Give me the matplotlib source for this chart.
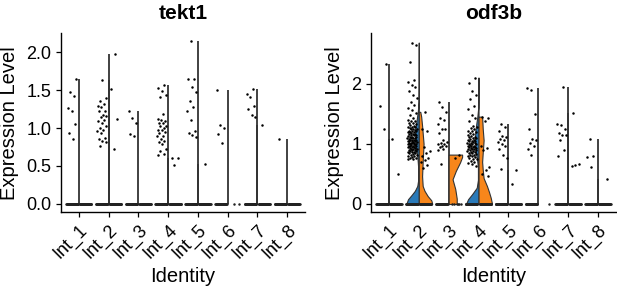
import numpy as np
import matplotlib
matplotlib.use('Agg')
import matplotlib.pyplot as plt

plt.rcParams['font.family'] = ['Liberation Sans', 'DejaVu Sans']

clusters = ['Int_1', 'Int_2', 'Int_3', 'Int_4', 'Int_5', 'Int_6', 'Int_7', 'Int_8']
BLUE = '#2a7ab9'
ORANGE = '#f7861b'
LINE = '#333333'

# non-zero expression values, left (blue) and right (orange) split groups
tekt1_left = [
    [1.65, 1.48, 1.42, 1.26, 1.23, 1.05, 0.93, 0.86],
    [1.63, 1.40, 1.36, 1.32, 1.29, 1.28, 1.23, 1.22, 1.17, 1.16, 1.14, 1.11, 1.09, 1.06,
     1.02, 1.00, 0.98, 0.96, 0.94, 0.87, 0.85, 0.83, 0.82, 0.76],
    [1.23, 1.13, 1.06, 0.92, 0.90],
    [1.57, 1.52, 1.49, 1.43, 1.41, 1.19, 1.12, 1.11, 1.09, 1.07, 1.06, 1.03, 1.02, 1.00,
     0.98, 0.97, 0.95, 0.93, 0.90, 0.89, 0.85, 0.83, 0.81, 0.79, 0.73, 0.70, 0.66, 0.65],
    [2.14, 1.65, 1.64, 1.54, 1.47, 1.36, 1.28, 1.23, 1.11, 0.96, 0.94, 0.91, 0.88],
    [1.50, 1.04, 1.00, 0.92, 0.80],
    [1.51, 1.45, 1.41, 1.29, 1.25, 1.17, 1.14],
    [0.86],
]
tekt1_right = [[], [1.97, 1.51, 1.12, 0.73], [], [0.60, 0.60, 0.51], [0.53], [], [1.04], []]
tekt1_zeros_left = [40, 40, 35, 40, 40, 35, 40, 40]
tekt1_zeros_right = [40, 40, 35, 40, 40, 2, 40, 40]

odf3b_left = [
    [2.32, 1.63, 1.25],
    [2.68, 2.64, 2.35, 2.06, 2.02, 1.98, 1.94, 1.87, 1.81, 1.76, 1.70, 1.65, 1.60, 1.56,
     1.51, 1.47, 1.43, 1.40, 1.38, 1.37, 1.35, 1.34, 1.32, 1.31, 1.30, 1.28, 1.28, 1.27,
     1.26, 1.25, 1.25, 1.24, 1.23, 1.22, 1.22, 1.21, 1.20, 1.19, 1.19, 1.18, 1.17, 1.16,
     1.16, 1.15, 1.14, 1.14, 1.13, 1.12, 1.12, 1.11, 1.10, 1.10, 1.09, 1.09, 1.08, 1.07,
     1.07, 1.06, 1.06, 1.05, 1.05, 1.04, 1.04, 1.03, 1.03, 1.02, 1.02, 1.01, 1.01, 1.00,
     1.00, 0.99, 0.99, 0.98, 0.98, 0.97, 0.97, 0.96, 0.96, 0.95, 0.95, 0.94, 0.93, 0.93,
     0.92, 0.92, 0.91, 0.90, 0.90, 0.89, 0.88, 0.88, 0.87, 0.86, 0.86, 0.85, 0.84, 0.83,
     0.82, 0.81, 0.80, 0.79, 0.78, 0.77, 0.76, 0.75, 0.74],
    [1.70, 1.61, 1.52, 1.43, 1.39, 1.32, 1.25, 1.24, 1.18, 1.06, 1.03, 1.02, 1.00, 0.99,
     0.97, 0.96, 0.94, 0.91, 0.90, 0.66],
    [2.10, 2.01, 1.88, 1.81, 1.74, 1.62, 1.58, 1.48, 1.43, 1.37, 1.30, 1.28, 1.26, 1.24,
     1.22, 1.21, 1.19, 1.18, 1.16, 1.15, 1.13, 1.12, 1.11, 1.10, 1.09, 1.08, 1.07, 1.06,
     1.05, 1.05, 1.04, 1.03, 1.02, 1.01, 1.01, 1.00, 0.99, 0.99, 0.98, 0.97, 0.97, 0.96,
     0.95, 0.95, 0.94, 0.93, 0.93, 0.92, 0.91, 0.91, 0.90, 0.89, 0.88, 0.88, 0.87, 0.86,
     0.85, 0.84, 0.83, 0.82, 0.81, 0.80, 0.79, 0.78, 0.77, 0.75, 0.74, 0.72, 0.70, 0.68,
     0.66, 0.63],
    [1.33, 1.28, 1.22, 1.13, 1.11, 1.08, 1.06, 1.03, 1.00, 0.96, 0.91, 0.81, 0.77, 0.58],
    [1.92, 1.90, 1.49, 1.24, 1.08, 1.06, 1.01, 0.96, 0.91, 0.81],
    [1.95, 1.33, 1.31, 1.25, 1.18, 1.15, 1.14, 1.06, 0.90, 0.80],
    [1.08, 0.79, 0.78, 0.62],
]
odf3b_right = [
    [1.08, 0.49],
    [1.53, 1.24, 1.21, 0.95, 0.88, 0.85, 0.80, 0.77, 0.73, 0.69, 0.64, 0.60],
    [0.82, 0.76],
    [1.45, 1.42, 1.38, 0.97, 0.93, 0.90, 0.62, 0.56, 0.50, 0.46],
    [0.56, 0.34],
    [],
    [1.51, 0.66, 0.64, 0.63],
    [0.42],
]
odf3b_zeros_left = [40, 40, 35, 40, 40, 35, 40, 40]
odf3b_zeros_right = [40, 40, 6, 40, 40, 1, 40, 40]

# violin outlines (level, scaled half width) for the wide ones
odf3b_shapes = {
    (1, 'L'): ([0, 0.08, 0.15, 0.22, 0.30, 0.40, 0.60, 0.80, 0.95, 1.10, 1.25, 1.40, 1.55, 1.70, 2.00, 2.68],
               [0.42, 0.36, 0.24, 0.13, 0.05, 0.02, 0.02, 0.05, 0.10, 0.12, 0.11, 0.07, 0.03, 0.01, 0.005, 0.003]),
    (1, 'R'): ([0, 0.06, 0.13, 0.22, 0.30, 0.46, 0.70, 1.00, 1.30, 1.45, 1.53],
               [0.45, 0.42, 0.30, 0.19, 0.13, 0.11, 0.13, 0.16, 0.11, 0.08, 0.05]),
    (2, 'R'): ([0, 0.09, 0.25, 0.41, 0.55, 0.69, 0.78, 0.82],
               [0.27, 0.27, 0.22, 0.13, 0.24, 0.38, 0.45, 0.45]),
    (3, 'L'): ([0, 0.08, 0.16, 0.27, 0.40, 0.60, 0.75, 0.90, 1.05, 1.20, 1.35, 1.45, 1.60, 2.10],
               [0.42, 0.35, 0.22, 0.06, 0.02, 0.02, 0.05, 0.10, 0.12, 0.11, 0.07, 0.04, 0.01, 0.003]),
    (3, 'R'): ([0, 0.03, 0.10, 0.20, 0.30, 0.43, 0.57, 0.70, 0.85, 1.06, 1.25, 1.45],
               [0.45, 0.44, 0.41, 0.35, 0.28, 0.17, 0.14, 0.12, 0.14, 0.17, 0.14, 0.12]),
}


def spread(n, lo, hi, k):
    # even, repeatable horizontal jitter
    f = (np.arange(n) * 0.6180339887 + 0.37 * k) % 1.0
    return lo + (hi - lo) * f


def panel(ax, title, left, right, zl, zr, shapes, ylim, yticks, ylabels):
    pos = np.arange(1, len(clusters) + 1)
    for i, c in enumerate(pos):
        for side, vals, nz, col, sgn in (('L', left[i], zl[i], BLUE, -1), ('R', right[i], zr[i], ORANGE, 1)):
            if (i, side) in shapes:
                yy, ww = shapes[(i, side)]
                yf = np.linspace(yy[0], yy[-1], 200)
                wf = np.interp(yf, yy, ww)
                ax.fill_betweenx(yf, c, c + sgn * wf, facecolor=col, edgecolor=LINE, lw=0.8, zorder=2)
            elif len(vals):
                ax.plot([c, c], [0, max(vals)], color=LINE, lw=1.3, zorder=2, solid_capstyle='butt')
            xs = c + sgn * spread(nz, 0.03, 0.43, i)
            ax.scatter(xs, np.zeros(nz), s=3.2, color='#222222', lw=0, zorder=3)
            if len(vals):
                xv = c + sgn * spread(len(vals), 0.06, 0.38, i + 3)
                ax.scatter(xv, vals, s=3.2, color='black', lw=0, zorder=4)
    ax.set_xlim(0.4, 8.6)
    ax.set_ylim(*ylim)
    ax.set_yticks(yticks, ylabels)
    ax.set_xticks(pos, clusters, rotation=45, ha='right', rotation_mode='anchor')
    for s in ('top', 'right'):
        ax.spines[s].set_visible(False)
    for s in ('left', 'bottom'):
        ax.spines[s].set_linewidth(1.0)
    ax.tick_params(length=3.5, width=0.9, labelsize=13, colors='black')
    ax.set_title(title, fontsize=15, fontweight='bold', pad=10)
    ax.set_ylabel('Expression Level', fontsize=14.5, labelpad=5)
    ax.set_xlabel('Identity', fontsize=14.5, labelpad=3)


fig = plt.figure(figsize=(6.17, 2.89), dpi=100)
ax1 = fig.add_axes([0.0989, 0.266, 0.3955, 0.619])
ax2 = fig.add_axes([0.6013, 0.266, 0.397, 0.619])

panel(ax1, 'tekt1', tekt1_left, tekt1_right, tekt1_zeros_left, tekt1_zeros_right, {},
      (-0.107, 2.247), [0, 0.5, 1.0, 1.5, 2.0], ['0.0', '0.5', '1.0', '1.5', '2.0'])
panel(ax2, 'odf3b', odf3b_left, odf3b_right, odf3b_zeros_left, odf3b_zeros_right, odf3b_shapes,
      (-0.135, 2.835), [0, 1, 2], ['0', '1', '2'])

fig.savefig('out.png', dpi=100)
